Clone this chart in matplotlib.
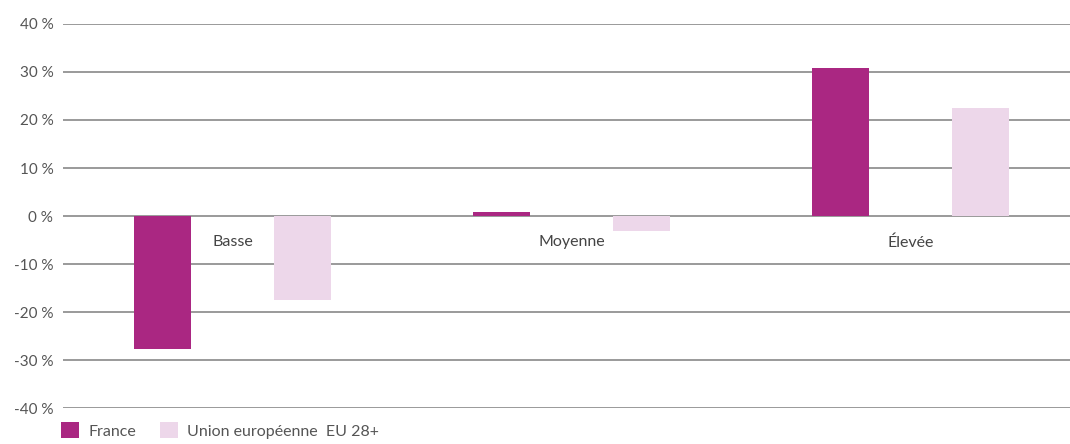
import numpy as np
import matplotlib.pyplot as plt
import matplotlib.ticker as ticker

# Données
categories = ["Basse", "Moyenne", "Élevée"]
france = [-27.7, 0.8, 30.8]
ue = [-17.5, -3.2, 22.4]
series_labels = ["France", "Union européenne  EU 28+"]
yticks = [-40, -30, -20, -10, 0, 10, 20, 30, 40]

plt.rcParams["font.family"] = ["Lato", "DejaVu Sans"]

col_fr = "#AA2782"
col_ue = "#EDD7EA"

fig = plt.figure(figsize=(10.7, 4.44), dpi=100)
ax = fig.add_axes([63 / 1070, 36 / 444, 1 - 63 / 1070, 384 / 444])

x = np.arange(len(categories))
largeur = 0.168
decal = 0.207

b1 = ax.bar(x - decal, france, largeur, color=col_fr, label=series_labels[0], zorder=2)
b2 = ax.bar(x + decal, ue, largeur, color=col_ue, label=series_labels[1], zorder=2)

# Libellés des catégories juste sous la ligne 0
for xi, cat in zip(x, categories):
    ax.text(xi, -5.5, cat, ha="center", va="center", fontsize=11.5, color="#444444")

ax.set_ylim(-40, 40)
ax.set_xlim(-0.5, 2.47)
ax.set_yticks(yticks)
ax.yaxis.set_major_formatter(ticker.FuncFormatter(lambda v, p: f"{int(v)} %"))
ax.set_xticks([])
ax.grid(axis="y", color="#9a9a9a", linewidth=1.4, zorder=0)
ax.set_axisbelow(True)
for s in ax.spines.values():
    s.set_visible(False)
ax.tick_params(axis="y", length=0, pad=7, labelsize=11, labelcolor="#555555")

fig.legend(
    handles=[b1, b2],
    loc="lower left",
    bbox_to_anchor=(0.044, -0.02),
    ncol=2,
    frameon=False,
    handlelength=1.1,
    handleheight=1.1,
    handletextpad=0.6,
    columnspacing=1.5,
    fontsize=11.5,
    labelcolor="#555555",
)

plt.savefig("out.png", dpi=100)
